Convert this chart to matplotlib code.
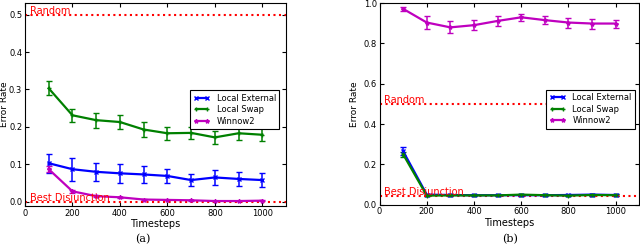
import matplotlib.pyplot as plt
import numpy as np

steps = [100, 200, 300, 400, 500, 600, 700, 800, 900, 1000]

# panel (a)
a_ext = [0.103, 0.087, 0.080, 0.076, 0.073, 0.069, 0.058, 0.065, 0.061, 0.058]
a_ext_err = [0.025, 0.031, 0.024, 0.025, 0.022, 0.019, 0.015, 0.020, 0.019, 0.019]
a_swap = [0.303, 0.231, 0.218, 0.213, 0.193, 0.183, 0.184, 0.172, 0.183, 0.179]
a_swap_err = [0.019, 0.017, 0.020, 0.019, 0.019, 0.018, 0.017, 0.018, 0.018, 0.018]
a_win = [0.087, 0.028, 0.015, 0.012, 0.006, 0.005, 0.004, 0.002, 0.002, 0.003]
a_win_err = [0.008, 0.004, 0.003, 0.002, 0.002, 0.001, 0.001, 0.001, 0.001, 0.001]
a_random = 0.5
a_best = 0.0

# panel (b)
b_ext = [0.265, 0.050, 0.048, 0.047, 0.047, 0.047, 0.047, 0.048, 0.050, 0.048]
b_ext_err = [0.020, 0.005, 0.004, 0.004, 0.004, 0.005, 0.004, 0.005, 0.005, 0.004]
b_swap = [0.250, 0.045, 0.046, 0.046, 0.046, 0.050, 0.047, 0.045, 0.048, 0.047]
b_swap_err = [0.012, 0.004, 0.004, 0.004, 0.004, 0.005, 0.004, 0.004, 0.004, 0.004]
b_win = [0.972, 0.904, 0.880, 0.891, 0.912, 0.930, 0.916, 0.904, 0.899, 0.899]
b_win_err = [0.010, 0.030, 0.030, 0.025, 0.025, 0.017, 0.020, 0.025, 0.025, 0.020]
b_random = 0.5
b_best = 0.045

labels = ['Local External', 'Local Swap', 'Winnow2']
colors = ['blue', 'green', 'm']
markers = ['x', '+', '*']

plt.rcParams['font.family'] = 'DejaVu Sans'


def draw_panel(ax, series, random_v, best_v, ylim, yticks, legend_anchor, ylab_x):
    handles = []
    for (vals, errs), lab, col, mk in zip(series, labels, colors, markers):
        cont = ax.errorbar(steps, vals, yerr=errs, color=col, marker=mk, markersize=3,
                           linewidth=1.6, elinewidth=1.1, capsize=2, capthick=1.0, label=lab)
        handles.append(cont.lines[0])
    ax.axhline(random_v, color='red', linestyle=':', linewidth=1.5)
    ax.axhline(best_v, color='red', linestyle=':', linewidth=1.5)
    ax.text(20, random_v - 0.005 * (ylim[1] - ylim[0]), 'Random', color='red', fontsize=7,
            va='bottom', ha='left')
    ax.text(20, best_v - 0.005 * (ylim[1] - ylim[0]), 'Best Disjunction', color='red', fontsize=7,
            va='bottom', ha='left')
    ax.set_xlim(0, 1100)
    ax.set_ylim(*ylim)
    ax.set_yticks(yticks)
    ax.set_xticks([0, 200, 400, 600, 800, 1000])
    ax.tick_params(direction='in', top=True, right=True, labelsize=6, length=3, pad=2)
    ax.set_xlabel('Timesteps', fontsize=7, labelpad=1)
    ax.set_ylabel('Error Rate', fontsize=6.5)
    ax.yaxis.set_label_coords(ylab_x, 0.5)
    leg = ax.legend(handles, labels, loc='upper right', bbox_to_anchor=legend_anchor, fontsize=6,
                    fancybox=False, framealpha=1, edgecolor='black', numpoints=2,
                    handlelength=2.0, borderpad=0.4, labelspacing=0.3)
    leg.get_frame().set_linewidth(0.8)


fig = plt.figure(figsize=(6.4, 2.46), dpi=100)
ax1 = fig.add_axes([0.039, 0.163, 0.408, 0.825])
ax2 = fig.add_axes([0.593, 0.168, 0.406, 0.819])

draw_panel(ax1, [(a_ext, a_ext_err), (a_swap, a_swap_err), (a_win, a_win_err)],
           a_random, a_best, (-0.011, 0.531), [0.0, 0.1, 0.2, 0.3, 0.4, 0.5], (0.99, 0.59), -0.06)
draw_panel(ax2, [(b_ext, b_ext_err), (b_swap, b_swap_err), (b_win, b_win_err)],
           b_random, b_best, (0.0, 1.0), [0.0, 0.2, 0.4, 0.6, 0.8, 1.0], (1.0, 0.59), -0.08)

fig.text(143 / 640, 1 - 239 / 246, '(a)', fontsize=8, family='DejaVu Serif', ha='center', va='center')
fig.text(510 / 640, 1 - 239 / 246, '(b)', fontsize=8, family='DejaVu Serif', ha='center', va='center')

fig.savefig('out.png', dpi=100)
